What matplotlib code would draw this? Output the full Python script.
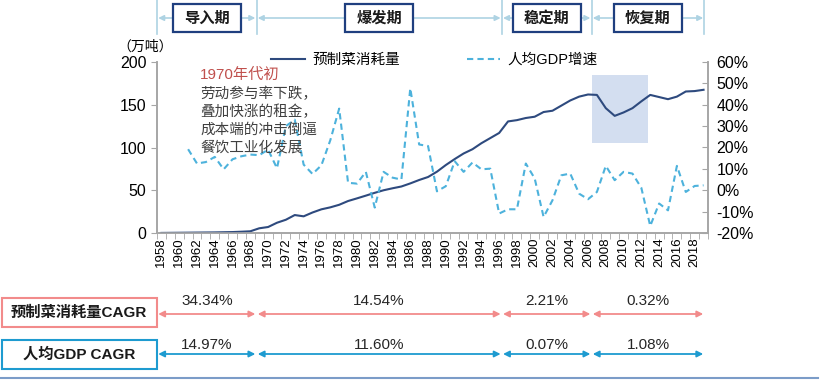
import numpy as np
import matplotlib
matplotlib.use("Agg")
import matplotlib.pyplot as plt
import matplotlib.transforms as mtransforms
from matplotlib.patches import Rectangle

plt.rcParams['font.family'] = ['Liberation Sans', 'Noto Sans CJK SC', 'DejaVu Sans']

years = list(range(1958, 2020))
# 预制菜消耗量 (万吨)
consumption = [0.1, 0.2, 0.3, 0.4, 0.5, 0.6, 0.7, 0.9, 1.1, 1.5,
               2.0, 5.5, 7.0, 12.0, 15.5, 21.0, 19.5, 24.0, 27.7, 30.0,
               33.0, 37.4, 40.5, 43.7, 47.0, 50.0, 52.3, 54.4, 58.0, 62.0,
               65.5, 71.7, 79.5, 86.5, 93.0, 98.0, 105.0, 111.0, 117.0, 130.5,
               132.0, 134.5, 136.0, 141.5, 143.0, 149.0, 155.0, 159.5, 162.0, 161.5,
               146.0, 137.0, 141.0, 146.0, 154.0, 161.5, 159.0, 156.5, 159.5, 165.5,
               166.0, 167.5]
# 人均GDP增速 (%), starts 1961
gdp_growth = [np.nan, np.nan, np.nan, 19.2, 12.5, 13.2, 15.6, 9.8, 14.5, 15.9,
              16.7, 16.4, 19.0, 10.3, 30.0, 33.0, 12.0, 7.6, 11.7, 23.4,
              38.2, 3.5, 3.1, 8.6, -8.1, 8.6, 5.9, 5.0, 47.7, 21.4,
              20.7, -0.5, 1.9, 13.6, 8.6, 13.0, 9.8, 10.1, -10.9, -8.9,
              -8.9, 12.5, 5.5, -12.5, -4.7, 7.0, 7.8, -1.6, -4.2, -0.8,
              11.4, 4.7, 8.6, 7.8, 1.1, -16.7, -6.2, -9.4, 11.4, -0.8,
              2.0, 2.3]

phases = ['导入期', '爆发期', '稳定期', '恢复期']
phase_edges = [1957.5, 1968.7, 1996.3, 2006.4, 2019.1]
cagr_food = ['34.34%', '14.54%', '2.21%', '0.32%']
cagr_gdp = ['14.97%', '11.60%', '0.07%', '1.08%']

W, H = 831, 382
fig = plt.figure(figsize=(W / 100, H / 100), dpi=100)

def fx(px):
    return px / W

def fy(py):
    return 1 - py / H

ax = fig.add_axes([fx(157), fy(233), fx(708 - 157), (233 - 62) / H])
x = np.arange(len(years))
yr2x = lambda y: y - 1958

grey = '#a6a6a6'
line_col = '#2e4a7e'
dash_col = '#4db2dc'

ax.add_patch(Rectangle((yr2x(2006.5), 105.6), 6.2, 79.2,
                       facecolor='#d3def0', edgecolor='none', zorder=0))
l1, = ax.plot(x, consumption, color=line_col, lw=1.5, zorder=3)
ax.set_xlim(-0.5, len(years) - 0.5)
ax.set_ylim(0, 200)
ax.set_yticks(range(0, 201, 50))

ax2 = ax.twinx()
l2, = ax2.plot(x, gdp_growth, color=dash_col, lw=1.5, ls=(0, (3, 2)), zorder=3)
ax2.set_ylim(-20, 60)
ax2.set_yticks(range(-20, 61, 10))
ax2.set_yticklabels([f'{v}%' for v in range(-20, 61, 10)])

ax.set_xticks(x[::2])
ax.set_xticklabels([str(y) for y in years[::2]], rotation=90, fontsize=9.5)
ax.set_xticks(np.arange(-0.5, len(years)), minor=True)
ax.tick_params(axis='x', which='major', length=0, pad=3)
ax.tick_params(axis='x', which='minor', length=4, color=grey)
ax.tick_params(axis='y', length=4, color=grey, labelsize=11.5)
ax2.tick_params(axis='y', direction='in', length=4, color=grey, labelsize=11.5, pad=6)

for a in (ax, ax2):
    a.spines['top'].set_visible(False)
    for s in ('left', 'right', 'bottom'):
        a.spines[s].set_color(grey)
        a.spines[s].set_linewidth(1.2)

fig.text(fx(145), fy(47), '（万吨）', fontsize=10, ha='center', va='center',
         family=['Noto Sans CJK SC'])

fig.legend([l1, l2], ['预制菜消耗量', '人均GDP增速'], loc='center left',
           bbox_to_anchor=(fx(258), fy(60)), ncol=2, frameon=False,
           fontsize=10.5, handlelength=2.3, columnspacing=4.6, handletextpad=0.5)

fig.text(fx(200), fy(75), '1970年代初', color='#c0504d', fontsize=11, va='center')
notes = ['劳动参与率下跌，', '叠加快涨的租金，', '成本端的冲击倒逼', '餐饮工业化发展']
for i, t in enumerate(notes):
    fig.text(fx(200), fy(94 + 18 * i), t, color='#404040', fontsize=10.5, va='center')

# phase header and CAGR rows, x in years, y in figure pixels
trans = mtransforms.blended_transform_factory(ax.transData, fig.transFigure)
edges = [yr2x(e) for e in phase_edges]
arrow_top = '#aed3e3'
for e in edges:
    fig.add_artist(plt.Line2D([e, e], [fy(0), fy(34)], transform=trans,
                              color=arrow_top, lw=1.2))
unit = 551 / 62
for i, name in enumerate(phases):
    a, b = edges[i], edges[i + 1]
    g = 1.2 / unit
    ax.annotate('', xy=(a + g, fy(18)), xytext=(b - g, fy(18)), xycoords=trans,
                textcoords=trans, annotation_clip=False,
                arrowprops=dict(arrowstyle='<|-|>', color=arrow_top, lw=1.2,
                                mutation_scale=8, shrinkA=0, shrinkB=0))
    mid = (a + b) / 2
    bw = 68 / unit
    fig.add_artist(Rectangle((mid - bw / 2, fy(32)), bw, 28 / H, transform=trans,
                             facecolor='white', edgecolor='#1f3f7f', lw=1.6, zorder=5))
    fig.text(mid, fy(18), name, transform=trans, ha='center', va='center',
             fontsize=11, fontweight='bold', color='#1a1a1a', zorder=6,
             family=['Noto Sans CJK SC'])

rows = [(cagr_food, '#f28b8b', 314, 301, '预制菜消耗量CAGR', 298, 327),
        (cagr_gdp, '#1e9bd0', 354, 345, '人均GDP CAGR', 340, 369)]
for vals, col, ya, yt, label, y0, y1 in rows:
    for i, v in enumerate(vals):
        a, b = edges[i], edges[i + 1]
        g = 1.2 / unit
        ax.annotate('', xy=(a + g, fy(ya)), xytext=(b - g, fy(ya)), xycoords=trans,
                    textcoords=trans, annotation_clip=False,
                    arrowprops=dict(arrowstyle='<|-|>', color=col, lw=1.3,
                                    mutation_scale=9, shrinkA=0, shrinkB=0))
        fig.text((a + b) / 2, fy(yt), v, transform=trans, ha='center', va='center',
                 fontsize=11, color='#262626')
    fig.add_artist(Rectangle((fx(2), fy(y1)), fx(155), (y1 - y0) / H,
                             transform=fig.transFigure, facecolor='white',
                             edgecolor=col, lw=1.5))
    fig.text(fx(79), fy((y0 + y1) / 2), label, ha='center', va='center',
             fontsize=11, fontweight='bold', color='#1a1a1a')

fig.add_artist(plt.Line2D([0, fx(818)], [fy(378), fy(378)], transform=fig.transFigure,
                          color='#7b9cc8', lw=1.5))

fig.savefig('out.png', dpi=100)
